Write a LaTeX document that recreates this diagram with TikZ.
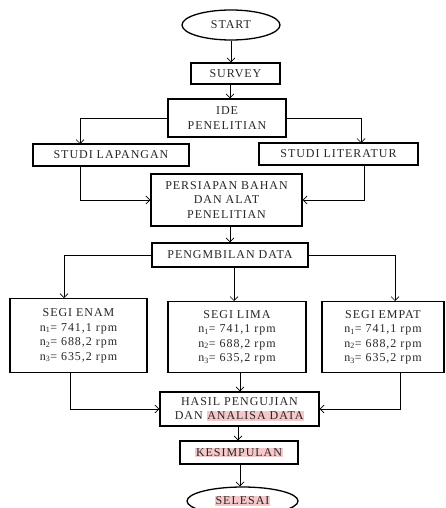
\documentclass[tikz,border=0pt]{standalone}
\usepackage{fontspec}
\usetikzlibrary{shapes.geometric,arrows.meta}
\setmainfont[LetterSpace=8]{Liberation Serif}
\definecolor{hlpink}{RGB}{246,200,202}
\newcommand{\hlt}[1]{{\setlength{\fboxsep}{0.6pt}\colorbox{hlpink}{#1}}}
\tikzset{
  box/.style={draw, line width=1.3pt, align=center, inner sep=1pt,
    font=\fontsize{12}{14.5}\selectfont, text=black!85},
  term/.style={draw, line width=1.3pt, ellipse, inner sep=0pt,
    font=\fontsize{12}{14.5}\selectfont, text=black!85},
  link/.style={-{Straight Barb[length=4pt, width=8pt]}, line width=0.7pt}
}
\begin{document}
\begin{tikzpicture}[x=1pt, y=-1pt]
\useasboundingbox (0,0) rectangle (446,508);
\node[term, minimum width=98, minimum height=30] (start) at (231,25){START};
\node[box, minimum width=89, minimum height=21] (survey) at (235.5,73.5){SURVEY};
\node[box, minimum width=118, minimum height=38] (ide) at (227,118){IDE\\PENELITIAN};
\node[box, minimum width=156, minimum height=22] (lap) at (111,155){STUDI LAPANGAN};
\node[box, minimum width=159, minimum height=22] (lit) at (338.5,154){STUDI LITERATUR};
\node[box, minimum width=151, minimum height=52] (prep) at (226.5,200){PERSIAPAN BAHAN\\DAN ALAT\\PENELITIAN};
\node[box, minimum width=156, minimum height=24] (data) at (230,255){PENGMBILAN DATA};
\node[box, minimum width=137, minimum height=74, anchor=north] (enam) at (78.5,298)
  {SEGI ENAM\\n\textsubscript{1}= 741,1 rpm\\n\textsubscript{2}= 688,2 rpm\\n\textsubscript{3}= 635,2 rpm};
\node[box, minimum width=138, minimum height=71, anchor=north] (lima) at (237,301)
  {SEGI LIMA\\n\textsubscript{1}= 741,1 rpm\\n\textsubscript{2}= 688,2 rpm\\n\textsubscript{3}= 635,2 rpm};
\node[box, minimum width=122, minimum height=71, anchor=north] (empat) at (383,301)
  {SEGI EMPAT\\n\textsubscript{1}= 741,1 rpm\\n\textsubscript{2}= 688,2 rpm\\n\textsubscript{3}= 635,2 rpm};
\node[box, minimum width=159, minimum height=34] (hasil) at (239.5,409){HASIL PENGUJIAN\\DAN \hlt{ANALISA DATA}};
\node[box, minimum width=118, minimum height=23] (kes) at (239,452.5){\hlt{KESIMPULAN}};
\node[term, minimum width=111, minimum height=28] (selesai) at (242.5,501){\hlt{SELESAI}};
% bends
\coordinate (lapin) at (80,144);
\coordinate (lapout) at (80,166);
\coordinate (litin) at (361,143);
\coordinate (litout) at (364,165);
\coordinate (enamin) at (64,298);
\coordinate (enamout) at (70,372);
\coordinate (empatin) at (395,301);
\coordinate (empatout) at (400,372);
\draw[link] (start.south -| 231,0) -- (survey.north -| 231,0);
\draw[link] (survey.south -| 230,0) -- (ide.north -| 230,0);
\draw[link] (ide.west) -| (lapin);
\draw[link] (ide.east) -| (litin);
\draw[link] (lapout) |- (prep.west);
\draw[link] (litout) |- (prep.east);
\draw[link] (prep.south -| 230,0) -- (data.north -| 230,0);
\draw[link] (data.west) -| (enamin);
\draw[link] (data.east) -| (empatin);
\draw[link] (data.south -| 234,0) -- (lima.north -| 234,0);
\draw[link] (enamout) |- (hasil.west);
\draw[link] (lima.south -| 240,0) -- (hasil.north -| 240,0);
\draw[link] (empatout) |- (hasil.east);
\draw[link] (hasil.south -| 238,0) -- (kes.north -| 238,0);
\draw[link] (kes.south -| 240,0) -- (selesai.north -| 240,0);
\end{tikzpicture}
\end{document}
